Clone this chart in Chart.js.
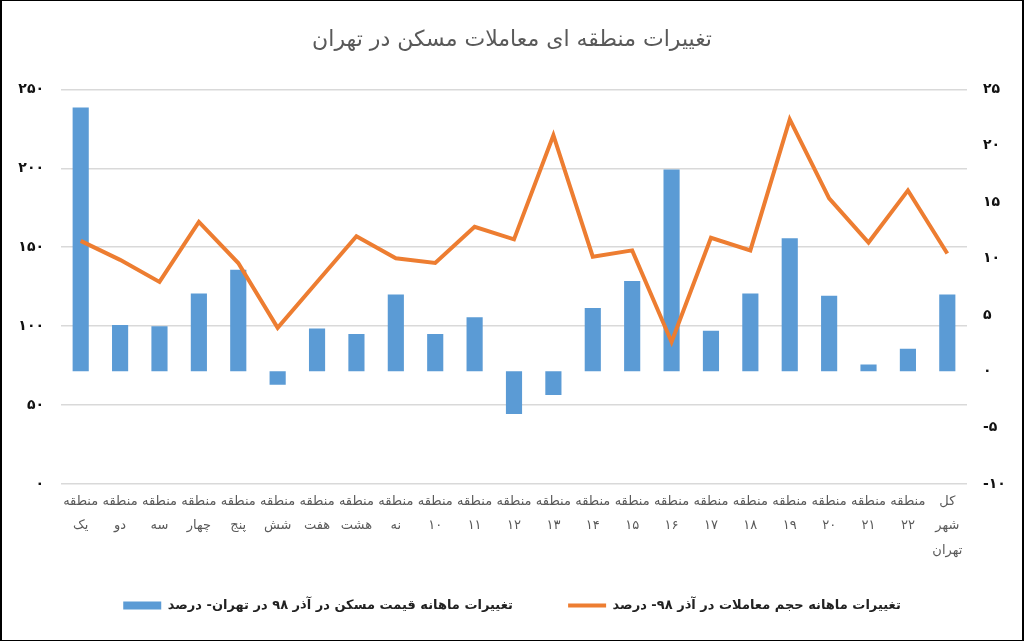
<!DOCTYPE html>
<html>
<head>
<meta charset="utf-8">
<script src="https://cdn.jsdelivr.net/npm/chart.js@4"></script>
<style>
  body { margin: 0; background: #fff; }
  #frame {
    width: 1024px; height: 641px; box-sizing: border-box;
    border-left: 2px solid #000; border-right: 2px solid #000;
    border-top: 1px solid #000; border-bottom: 1px solid #000;
  }
  #wrap { position: relative; width: 1020px; height: 639px; }
</style>
</head>
<body>
<div id="frame"><div id="wrap"><canvas id="mixCanvas"></canvas></div></div>
<script>
// DONNEES ----------------------------------
// categories (multi-line labels as in the picture)
let regions = [
  ['منطقه', 'یک'], ['منطقه', 'دو'], ['منطقه', 'سه'], ['منطقه', 'چهار'],
  ['منطقه', 'پنج'], ['منطقه', 'شش'], ['منطقه', 'هفت'], ['منطقه', 'هشت'],
  ['منطقه', 'نه'], ['منطقه', '۱۰'], ['منطقه', '۱۱'], ['منطقه', '۱۲'],
  ['منطقه', '۱۳'], ['منطقه', '۱۴'], ['منطقه', '۱۵'], ['منطقه', '۱۶'],
  ['منطقه', '۱۷'], ['منطقه', '۱۸'], ['منطقه', '۱۹'], ['منطقه', '۲۰'],
  ['منطقه', '۲۱'], ['منطقه', '۲۲'], ['کل', 'شهر', 'تهران']
];
// bars : monthly price change (right axis)
let priceChange = [23.4, 4.1, 4.0, 6.9, 9.0, -1.2, 3.8, 3.3, 6.8, 3.3, 4.8, -3.8,
  -2.1, 5.6, 8.0, 17.9, 3.6, 6.9, 11.8, 6.7, 0.6, 2.0, 6.8];
// line : monthly transaction volume change (left axis)
let volumeChange = [154, 142, 128, 166, 140, 99, 128, 157, 143, 140, 163, 155,
  221, 144, 148, 90, 156, 148, 231, 181, 153, 186, 146];
// tick labels (persian digits)
let leftTicks = ['۰', '۵۰', '۱۰۰', '۱۵۰', '۲۰۰', '۲۵۰'];
let rightTicks = ['-۱۰', '-۵', '۰', '۵', '۱۰', '۱۵', '۲۰', '۲۵'];

let priceLabel = 'تغییرات ماهانه قیمت مسکن در آذر ۹۸ در تهران- درصد';
let volumeLabel = 'تغییرات ماهانه حجم معاملات در آذر ۹۸- درصد';
let titleText = 'تغییرات منطقه ای معاملات مسکن در تهران';
//--------------------------------------------

let fontFam = '"DejaVu Sans", Tahoma, sans-serif';

// GRAPH ------------------------------------
let mixCanvas = document.getElementById('mixCanvas');
let mixedChart = new Chart(mixCanvas, {
  data: {
    labels: regions,
    datasets: [{
      type: 'bar',
      label: priceLabel,
      data: priceChange,
      yAxisID: 'y1',
      backgroundColor: '#5B9BD5',
      barPercentage: 0.41,
      categoryPercentage: 1,
      pointStyle: 'rect',
      order: 1
    }, {
      type: 'line',
      label: volumeLabel,
      data: volumeChange,
      yAxisID: 'y',
      borderColor: '#ED7D31',
      backgroundColor: '#ED7D31',
      borderWidth: 4,
      pointRadius: 0,
      tension: 0,
      pointStyle: 'line',
      order: 0
    }]
  },
  options: {
    responsive: true,
    maintainAspectRatio: false,
    animation: false,
    layout: { padding: { left: 0, right: 0, top: 0, bottom: 18 } },
    plugins: {
      tooltip: { enabled: false },
      title: {
        display: true,
        text: titleText,
        color: '#595959',
        font: { family: fontFam, size: 22, weight: 'normal' },
        padding: { top: 26, bottom: 36 }
      },
      legend: {
        position: 'bottom',
        reverse: true,
        labels: {
          usePointStyle: true,
          pointStyleWidth: 38,
          boxHeight: 8,
          padding: 10,
          color: '#222',
          font: { family: fontFam, size: 13, weight: 'bold' },
          // extra space after the bar item, wider gap like the picture
          generateLabels: function (chart) {
            let items = Chart.defaults.plugins.legend.labels.generateLabels(chart);
            items.forEach(function (it) {
              if (it.datasetIndex === 0) it.text = it.text + '          ';
            });
            return items;
          }
        }
      }
    },
    scales: {
      x: {
        grid: { display: false },
        border: { display: false },
        ticks: {
          autoSkip: false,
          maxRotation: 0,
          minRotation: 0,
          padding: -3,
          color: '#595959',
          font: { family: fontFam, size: 13, lineHeight: 1.9 }
        },
        afterFit: function (scale) { scale.height = 105; }
      },
      y: {
        position: 'left',
        min: 0,
        max: 250,
        grid: { color: '#D9D9D9', lineWidth: 1.5, drawTicks: false },
        border: { display: false },
        ticks: {
          stepSize: 50,
          padding: 17,
          color: '#111',
          font: { family: fontFam, size: 14, weight: 'bold' },
          callback: function (value, index) { return leftTicks[index]; }
        },
        afterFit: function (scale) { scale.width = 59; }
      },
      y1: {
        position: 'right',
        min: -10,
        max: 25,
        grid: { display: false, drawTicks: false },
        border: { display: false },
        ticks: {
          stepSize: 5,
          padding: 16,
          color: '#111',
          font: { family: fontFam, size: 14, weight: 'bold' },
          callback: function (value, index) { return rightTicks[index]; }
        },
        afterFit: function (scale) { scale.width = 55; }
      }
    }
  }
});
//---------------------------------------------
</script>
</body>
</html>
